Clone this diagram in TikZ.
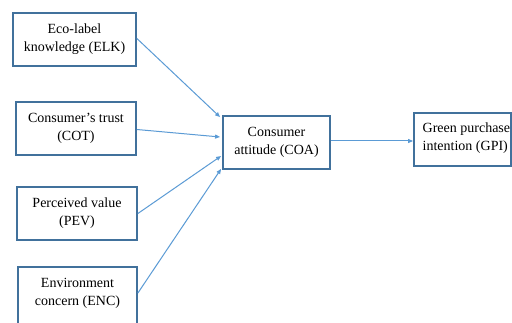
\documentclass[tikz,border=0pt]{standalone}
\usepackage{fontspec}
\setmainfont{Liberation Serif}
\usetikzlibrary{arrows.meta}
\definecolor{boxblue}{HTML}{41719C}
\definecolor{arrowblue}{HTML}{5B9BD5}
\begin{document}
\begin{tikzpicture}[x=1pt,y=-1pt,
  box/.style={draw=boxblue,line width=1.8pt,inner sep=0pt,align=center,
    font=\fontsize{14}{18}\selectfont,minimum height=53pt},
  lbl/.style={inner sep=0pt,align=left,font=\fontsize{14}{18}\selectfont},
  conn/.style={draw=arrowblue,line width=1pt,-{Triangle[length=5pt,width=4pt]}}]
\useasboundingbox[fill=white] (0,0) rectangle (512,323);
\node[box,minimum width=123pt] (ELK) at (74.5,39.5) {Eco-label\\knowledge (ELK)};
\node[box,minimum width=120pt] (COT) at (76,128.5) {Consumer’s trust\\(COT)};
\node[box,minimum width=120pt] (PEV) at (77,213.5) {Perceived value\\(PEV)};
\node[box,minimum width=119pt,minimum height=60pt] (ENC) at (77.5,297) {};
\node[lbl,align=center] (ENCtext) at (77.5,293) {Environment\\concern (ENC)};
\node[box,minimum width=107pt] (COA) at (276.5,142.5) {Consumer\\attitude (COA)};
\node[box,minimum width=97pt] (GPI) at (462.5,139.5) {};
\node[lbl,anchor=west] (GPItext) at (422.5,138) {Green purchase\\intention (GPI)};
\draw[conn] ([yshift=1pt]ELK.east) -- ([shift={(-2pt,-2pt)}]COA.north west);
\draw[conn] ([yshift=-1pt]COT.east) -- ([shift={(-2pt,5.5pt)}]COA.west);
\draw[conn] (PEV.east) -- ([shift={(-1pt,-13.5pt)}]COA.west);
\draw[conn] ([yshift=4pt]ENC.east) -- ([shift={(-1pt,1pt)}]COA.south west);
\draw[conn] ([yshift=1.5pt]COA.east) -- ([yshift=-1.5pt]GPI.west);
\end{tikzpicture}
\end{document}
